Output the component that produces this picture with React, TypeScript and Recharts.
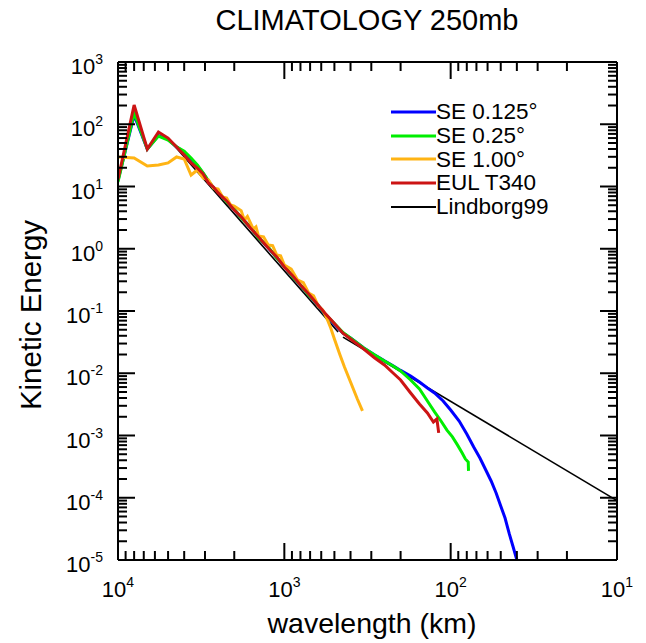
import { Legend, Line, LineChart, XAxis, YAxis } from "recharts";

const FONT = "'Liberation Sans', Arial, Helvetica, sans-serif";
const BLUE = "#0000ff";
const GREEN = "#00ee00";
const ORANGE = "#ffb414";
const RED = "#cc1414";
const BLACK = "#000000";

// wavelengths (km) shared by the three higher resolution runs (wavenumber 4..200)
const waveKm = [
  10000, 8000, 6667, 5714, 5000, 4444, 4000, 3636, 3333, 3077, 2857, 2667, 2500, 2222, 2000, 1818, 1600,
  1429, 1250, 1111, 1000, 889, 800, 714, 635, 571, 500, 444, 400, 333, 286, 250, 222, 200,
];
const se0125 = [
  12.5, 140, 40, 66, 57, 43, 35.5, 27.4, 21.4, 16.3, 12.1, 9.6, 8.1, 5.67, 4.28, 3.16, 2.23, 1.5, 1.04, 0.716,
  0.52, 0.353, 0.26, 0.181, 0.128, 0.089, 0.061, 0.044, 0.037, 0.0255, 0.0196, 0.0158, 0.0132, 0.0111,
];
const se025 = [
  11.8, 152, 40, 64.7, 55.8, 43.5, 37, 28.7, 22.2, 16.5, 12.3, 9.5, 8.2, 5.65, 4.36, 3.12, 2.23, 1.49, 1.07,
  0.712, 0.53, 0.352, 0.262, 0.181, 0.13, 0.09, 0.063, 0.045, 0.0368, 0.0255, 0.0196, 0.0157, 0.0131, 0.0109,
];
const eulT340 = [
  13, 204, 40, 75, 60, 43, 32, 24, 19.8, 15.9, 11.4, 9.8, 7.9, 5.85, 4.2, 3.25, 2.16, 1.55, 1.03, 0.74, 0.51,
  0.366, 0.262, 0.188, 0.13, 0.093, 0.063, 0.044, 0.0355, 0.0245, 0.0176, 0.0136, 0.0101, 0.0078,
];

// small-scale tails
const se0125TailKm = [174, 154, 138, 125, 111, 100, 88.9, 80, 72.7, 66.7, 61.5, 57.1, 53.3, 50, 47.1, 44.4, 42.1, 40];
const se0125Tail = [
  0.00903, 0.00723, 0.0058, 0.00482, 0.00358, 0.00257, 0.00171, 0.00106, 6.53e-4, 4.35e-4, 2.79e-4, 1.86e-4,
  1.19e-4, 7.36e-5, 4.73e-5, 2.62e-5, 1.62e-5, 1.0e-5,
];
const se025TailKm = [174, 154, 138, 125, 114.3, 105.3, 97.6, 90.9, 85.1, 81.6, 78.4, 78.1];
const se025Tail = [0.0078, 0.00558, 0.00358, 0.00239, 0.00171, 0.00122, 9.5e-4, 7.0e-4, 5.2e-4, 4.2e-4, 3.75e-4, 2.7e-4];
const eulTailKm = [174, 154, 138, 127, 121, 118];
const eulTail = [0.00482, 0.00321, 0.0023, 0.00165, 0.00184, 0.0011];

// SE 1.00 deg
const se100Km = [
  10000, 8000, 6667, 5714, 5000, 4444, 4000, 3636, 3333, 3077, 2857, 2667, 2500, 2353, 2222, 2105, 2000, 1818,
  1739, 1667, 1538, 1481, 1429, 1333, 1250, 1176, 1111, 1053, 1000, 909, 833, 769, 714, 667, 625, 588, 556,
  526, 500, 465, 435, 400, 364, 339,
];
const se100 = [
  29.8, 28.7, 21.3, 22.1, 23.9, 29.8, 27.7, 15.3, 18.4, 13.7, 12.7, 9.46, 9.12, 6.78, 6.53, 5.05, 4.86, 4.1,
  2.9, 3.3, 2.08, 2.25, 1.6, 1.55, 1.15, 1.12, 0.794, 0.77, 0.548, 0.47, 0.315, 0.285, 0.195, 0.175, 0.12,
  0.104, 0.0773, 0.0533, 0.0355, 0.0204, 0.0126, 0.00723, 0.00386, 0.00248,
];

// Lindborg (1999) fit: k^-3 and k^-5/3 ranges
const lindborgSteepKm = [5000, 475];
const lindborgSteep = [59, 0.046];
const lindborgShallowKm = [444, 10];
const lindborgShallow = [0.038, 9e-5];

const decadesX = [10, 100, 1000];
const decadesY = [1e-5, 1e-4, 1e-3, 1e-2, 1e-1, 1, 10, 100];
const minorSteps = [1, 2, 3, 4, 5, 6, 7, 8, 9];
const xTicks = [...decadesX.flatMap((d) => minorSteps.map((m) => m * d)), 10000];
const yTicks = [...decadesY.flatMap((d) => minorSteps.map((m) => m * d)), 1000];

const legendItems = [
  { label: "SE 0.125°", color: BLUE, width: 3 },
  { label: "SE 0.25°", color: GREEN, width: 3 },
  { label: "SE 1.00°", color: ORANGE, width: 3 },
  { label: "EUL T340", color: RED, width: 3 },
  { label: "Lindborg99", color: BLACK, width: 2 },
];

const pts = (xs: number[], ys: number[]) => xs.map((x, i) => ({ x, y: ys[i] }));

const exponent = (v: number) => Math.round(Math.log10(v));
const isMajor = (v: number) => Math.abs(Math.log10(v) - exponent(v)) < 1e-6;

const MAJOR = 17;
const MINOR = 9;

function XTick(props: any) {
  const { x, y, payload, top } = props;
  const v = payload.value;
  const major = isMajor(v);
  const len = major ? MAJOR : MINOR;
  return (
    <g>
      <line x1={x} x2={x} y1={y} y2={top ? y + len : y - len} stroke={BLACK} strokeWidth={2} />
      {!top && major && (
        <text x={x} y={y + 37} textAnchor="middle" fontSize={22} fontFamily={FONT} fill={BLACK}>
          10
          <tspan dy={-10} fontSize={14}>
            {exponent(v)}
          </tspan>
        </text>
      )}
    </g>
  );
}

function YTick(props: any) {
  const { x, y, payload, right } = props;
  const v = payload.value;
  const major = isMajor(v);
  const len = major ? MAJOR : MINOR;
  return (
    <g>
      <line x1={x} x2={right ? x - len : x + len} y1={y} y2={y} stroke={BLACK} strokeWidth={2} />
      {!right && major && (
        <text x={x - 15} y={y + 12} textAnchor="end" fontSize={22} fontFamily={FONT} fill={BLACK}>
          10
          <tspan dy={-10} fontSize={14}>
            {exponent(v)}
          </tspan>
        </text>
      )}
    </g>
  );
}

function LegendBox() {
  return (
    <div style={{ fontFamily: FONT, fontSize: 22.5, color: BLACK }}>
      {legendItems.map((it) => (
        <div key={it.label} style={{ display: "flex", alignItems: "center", height: 23.8 }}>
          <svg width={45} height={4} style={{ display: "block" }}>
            <line x1={0} x2={45} y1={2} y2={2} stroke={it.color} strokeWidth={it.width} />
          </svg>
          <span style={{ lineHeight: "24px", whiteSpace: "nowrap" }}>{it.label}</span>
        </div>
      ))}
    </div>
  );
}

const axisLine = { stroke: BLACK, strokeWidth: 2 };

export default function App() {
  return (
    <div style={{ position: "absolute", left: 0, top: 0, width: 646, height: 643, background: "#fff" }}>
      <LineChart width={646} height={643} margin={{ top: 61, right: 28, bottom: 82, left: 117 }}>
        <XAxis
          dataKey="x"
          type="number"
          scale="log"
          domain={[10, 10000]}
          reversed
          allowDataOverflow
          ticks={xTicks}
          interval={0}
          height={1}
          tickSize={0}
          tickMargin={0}
          tickLine={false}
          axisLine={axisLine}
          tick={(p: any) => <XTick {...p} />}
        />
        <XAxis
          xAxisId="top"
          orientation="top"
          dataKey="x"
          type="number"
          scale="log"
          domain={[10, 10000]}
          reversed
          allowDataOverflow
          ticks={xTicks}
          interval={0}
          height={1}
          tickSize={0}
          tickMargin={0}
          tickLine={false}
          axisLine={axisLine}
          tick={(p: any) => <XTick {...p} top />}
        />
        <YAxis
          type="number"
          scale="log"
          domain={[1e-5, 1000]}
          allowDataOverflow
          ticks={yTicks}
          interval={0}
          width={1}
          tickSize={0}
          tickMargin={0}
          tickLine={false}
          axisLine={axisLine}
          tick={(p: any) => <YTick {...p} />}
        />
        <YAxis
          yAxisId="right"
          orientation="right"
          type="number"
          scale="log"
          domain={[1e-5, 1000]}
          allowDataOverflow
          ticks={yTicks}
          interval={0}
          width={1}
          tickSize={0}
          tickMargin={0}
          tickLine={false}
          axisLine={axisLine}
          tick={(p: any) => <YTick {...p} right />}
        />
        <Legend
          layout="vertical"
          verticalAlign="middle"
          align="center"
          content={() => <LegendBox />}
          wrapperStyle={{ left: 391, top: 100, width: 230, height: 120 }}
        />
        <Line data={pts(lindborgSteepKm, lindborgSteep)} dataKey="y" stroke={BLACK} strokeWidth={1.6} dot={false} isAnimationActive={false} legendType="none" />
        <Line data={pts(lindborgShallowKm, lindborgShallow)} dataKey="y" stroke={BLACK} strokeWidth={1.6} dot={false} isAnimationActive={false} legendType="none" />
        <Line data={pts([...waveKm, ...se0125TailKm], [...se0125, ...se0125Tail])} dataKey="y" stroke={BLUE} strokeWidth={3} dot={false} isAnimationActive={false} />
        <Line data={pts([...waveKm, ...se025TailKm], [...se025, ...se025Tail])} dataKey="y" stroke={GREEN} strokeWidth={3} dot={false} isAnimationActive={false} />
        <Line data={pts(se100Km, se100)} dataKey="y" stroke={ORANGE} strokeWidth={3} dot={false} isAnimationActive={false} />
        <Line data={pts([...waveKm, ...eulTailKm], [...eulT340, ...eulTail])} dataKey="y" stroke={RED} strokeWidth={3} dot={false} isAnimationActive={false} />
      </LineChart>
      <svg width={646} height={643} style={{ position: "absolute", left: 0, top: 0, pointerEvents: "none" }}>
        <text x={367} y={30} textAnchor="middle" fontSize={29} fontFamily={FONT} fill={BLACK}>
          CLIMATOLOGY 250mb
        </text>
        <text x={372} y={633} textAnchor="middle" fontSize={28.5} fontFamily={FONT} fill={BLACK}>
          wavelength (km)
        </text>
        <text x={41} y={315} transform="rotate(-90 41 315)" textAnchor="middle" fontSize={29.5} fontFamily={FONT} fill={BLACK}>
          Kinetic Energy
        </text>
      </svg>
    </div>
  );
}
